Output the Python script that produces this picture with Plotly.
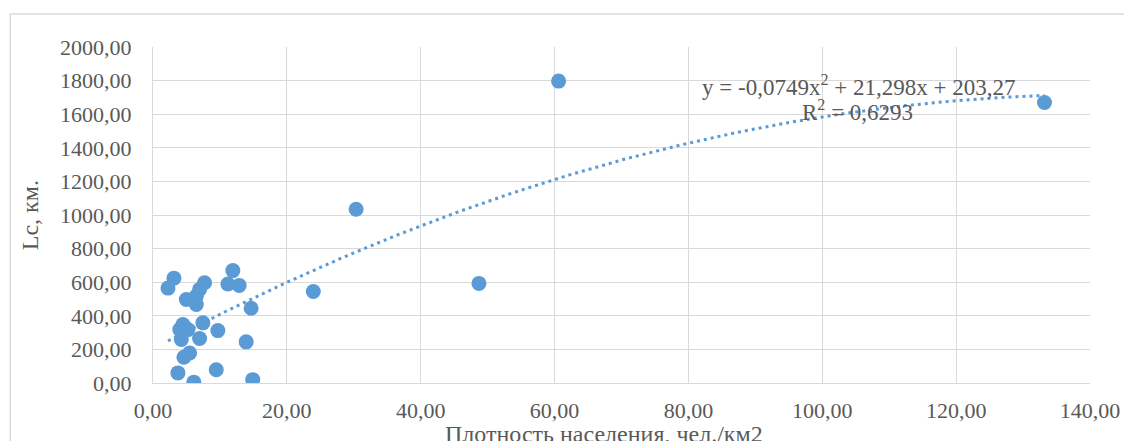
import numpy as np
import plotly.graph_objects as go

# Data
density = [3.13, 2.24, 11.93, 11.19, 12.88, 7.70, 6.96, 6.47, 4.98, 6.47,
           14.66, 4.47, 7.45, 9.69, 4.00, 5.22, 4.23, 6.96, 13.92, 5.47,
           4.62, 3.72, 9.45, 6.10, 14.90, 23.95, 30.35, 48.70, 60.60, 133.20]
lc = [624, 565, 669, 589, 581, 597, 557, 517, 497, 467,
      445, 348, 358, 312, 318, 318, 259, 265, 245, 179,
      153, 60, 79, 5, 20, 545, 1034, 593, 1797, 1670]

# Trendline equation shown in the chart
a2, a1, a0 = -0.0749, 21.298, 203.27
r2_text = "R<sup>2</sup> = 0,6293"
eq_text = "y = -0,0749x<sup>2</sup> + 21,298x + 203,27"

x_title = "Плотность населения, чел./км2"
y_title = "Lc, км."

blue = "#5B9BD5"
grid = "#D9D9D9"
txt = "#595959"
serif = "Liberation Serif"

xt = np.linspace(min(density), max(density), 300)
yt = a2 * xt ** 2 + a1 * xt + a0

fig = go.Figure()
fig.add_trace(go.Scatter(x=xt, y=yt, mode="lines",
                         line=dict(color=blue, width=3, dash="3px,4px"),
                         hoverinfo="skip", showlegend=False))
fig.add_trace(go.Scatter(x=density, y=lc, mode="markers",
                         marker=dict(color=blue, size=15),
                         showlegend=False))

OFF = 8  # page body margin
W, H = 1124, 433
L, R, T, B = 145, 40, 39, 58
pw, ph = W - L - R, H - T - B

def px(x):
    return (x - OFF - L) / pw

def py(y):
    return (H - B - (y - OFF)) / ph

fig.update_layout(
    width=W, height=H,
    margin=dict(l=L, r=R, t=T, b=B),
    paper_bgcolor="white", plot_bgcolor="white",
    separators=", ",
    font=dict(family=serif, size=20, color=txt),
    xaxis=dict(range=[0, 140], dtick=20, tickformat=".2f",
               showgrid=True, gridcolor=grid, gridwidth=1.3,
               showline=True, linecolor=grid, linewidth=1.3,
               zeroline=False, ticks="", ticklabelstandoff=7,
               tickfont=dict(family=serif, size=22, color=txt)),
    yaxis=dict(range=[0, 2000], dtick=200, tickformat=".2f",
               showgrid=True, gridcolor=grid, gridwidth=1.3,
               showline=True, linecolor=grid, linewidth=1.3,
               zeroline=False, ticks="", ticklabelstandoff=16,
               tickfont=dict(family=serif, size=22, color=txt)),
    shapes=[dict(type="rect", xref="paper", yref="paper",
                 x0=px(10), x1=px(1145), y0=py(455), y1=py(14),
                 line=dict(color=grid, width=1.5), layer="below")],
    annotations=[
        dict(text=eq_text, xref="paper", yref="paper",
             x=px(860), y=py(85), showarrow=False,
             font=dict(family=serif, size=23, color=txt),
             xanchor="center", yanchor="middle"),
        dict(text=r2_text, xref="paper", yref="paper",
             x=px(859), y=py(110), showarrow=False,
             font=dict(family=serif, size=23, color=txt),
             xanchor="center", yanchor="middle"),
        dict(text=x_title, xref="paper", yref="paper",
             x=px(605), y=py(434), showarrow=False,
             font=dict(family=serif, size=24, color=txt),
             xanchor="center", yanchor="middle"),
        dict(text=y_title, xref="paper", yref="paper",
             x=px(30), y=py(215), showarrow=False, textangle=-90,
             font=dict(family=serif, size=24, color=txt),
             xanchor="center", yanchor="middle"),
    ],
)

fig.write_html("out.html")
